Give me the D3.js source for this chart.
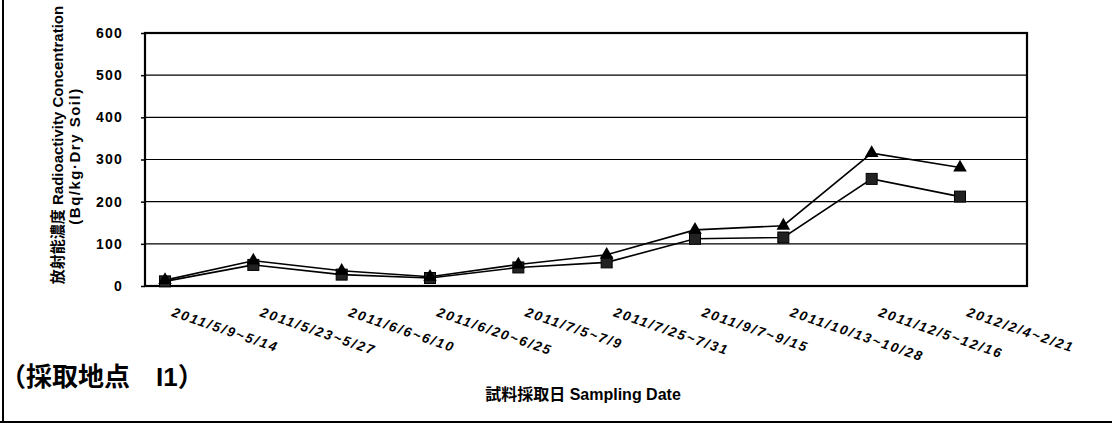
<!DOCTYPE html>
<html><head><meta charset="utf-8">
<script src="https://cdn.jsdelivr.net/npm/d3@7"></script>
<style>
html,body{margin:0;padding:0;background:#fff;}
svg{display:block;}
text{font-family:"Liberation Sans",Arial,"Noto Sans CJK JP",sans-serif;fill:#000;}
</style></head>
<body>
<svg id="c" width="1112" height="424"></svg>
<script>
const categories = ["2011/5/9~5/14","2011/5/23~5/27","2011/6/6~6/10","2011/6/20~6/25","2011/7/5~7/9","2011/7/25~7/31","2011/9/7~9/15","2011/10/13~10/28","2011/12/5~12/16","2012/2/4~2/21"];
const triangleSeries = [14, 60, 36, 22, 51, 74, 133, 143, 315, 281];
const squareSeries = [11, 50, 27, 19, 44, 56, 112, 115, 254, 212];
const yTicks = [0,100,200,300,400,500,600];
const yTickLabels = ["0","100","200","300","400","500","600"];

const svg = d3.select("#c");
const frame = {l:145, r:1027, t:33, b:286};
const x = d3.scalePoint().domain(categories).range([165, 960]);
const y = d3.scaleLinear().domain([0,600]).range([frame.b, frame.t]);

// outer border (left and bottom)
svg.append("line").attr("x1",3).attr("x2",3).attr("y1",0).attr("y2",423).attr("stroke","#000").attr("stroke-width",2);
svg.append("line").attr("x1",0).attr("x2",1112).attr("y1",422).attr("y2",422).attr("stroke","#000").attr("stroke-width",2);

// gridlines
svg.append("g").selectAll("line").data(yTicks.filter(d=>d>0&&d<600)).join("line")
  .attr("x1",frame.l).attr("x2",frame.r).attr("y1",d=>y(d)).attr("y2",d=>y(d))
  .attr("stroke","#000").attr("stroke-width",1.2);

// frame
svg.append("rect").attr("x",frame.l).attr("y",frame.t).attr("width",frame.r-frame.l).attr("height",frame.b-frame.t)
  .attr("fill","none").attr("stroke","#000").attr("stroke-width",2.2);

// y axis
const yAxis = d3.axisLeft(y).tickValues(yTicks).tickFormat((d,i)=>yTickLabels[i]).tickSize(4).tickPadding(18);
const ya = svg.append("g").attr("transform",`translate(${frame.l},0)`).call(yAxis);
ya.select(".domain").remove();
ya.selectAll("line").attr("stroke","#000").attr("stroke-width",1.5);
ya.selectAll("text").attr("font-size",14).attr("font-weight","bold").attr("letter-spacing",1.2)
  .attr("font-family","'Liberation Sans',Arial,sans-serif").attr("fill","#000");

// x labels rotated
svg.append("g").selectAll("text").data(categories).join("text")
  .attr("transform",d=>`translate(${x(d)+6},${316}) rotate(19)`)
  .attr("font-size",13.5).attr("font-weight","bold").attr("font-style","italic").attr("letter-spacing",2)
  .text(d=>d);

// lines
const line = d3.line().x((d,i)=>x(categories[i])).y(d=>y(d));
svg.append("path").datum(squareSeries).attr("d",line).attr("fill","none").attr("stroke","#000").attr("stroke-width",1.6);
svg.append("path").datum(triangleSeries).attr("d",line).attr("fill","none").attr("stroke","#000").attr("stroke-width",1.6);

// markers
svg.append("g").selectAll("rect").data(squareSeries).join("rect")
  .attr("x",(d,i)=>x(categories[i])-5.5).attr("y",d=>y(d)-5.5).attr("width",11).attr("height",11)
  .attr("fill","#222").attr("stroke","#000").attr("stroke-width",1);
const tri = d3.symbol().type(d3.symbolTriangle).size(80);
svg.append("g").selectAll("path").data(triangleSeries).join("path")
  .attr("transform",(d,i)=>`translate(${x(categories[i])},${y(d)})`)
  .attr("d",tri).attr("fill","#000");

// y axis title
svg.append("text").attr("transform","translate(63,145) rotate(-90)").attr("text-anchor","middle")
  .attr("font-size",15).attr("font-weight","bold")
  .text("放射能濃度  Radioactivity Concentration");
svg.append("text").attr("transform","translate(80,156) rotate(-90)").attr("text-anchor","middle")
  .attr("font-size",15).attr("font-weight","bold").attr("letter-spacing",1.5)
  .text("(Bq/kg·Dry Soil)");

// x axis title
svg.append("text").attr("x",583).attr("y",400).attr("text-anchor","middle")
  .attr("font-size",16).attr("font-weight","bold")
  .text("試料採取日 Sampling Date");

// site label
svg.append("text").attr("x",0).attr("y",386)
  .attr("font-size",26).attr("font-weight","bold")
  .attr("font-family","'Noto Sans CJK JP',sans-serif")
  .text("（採取地点　I1）");
</script>
</body></html>
